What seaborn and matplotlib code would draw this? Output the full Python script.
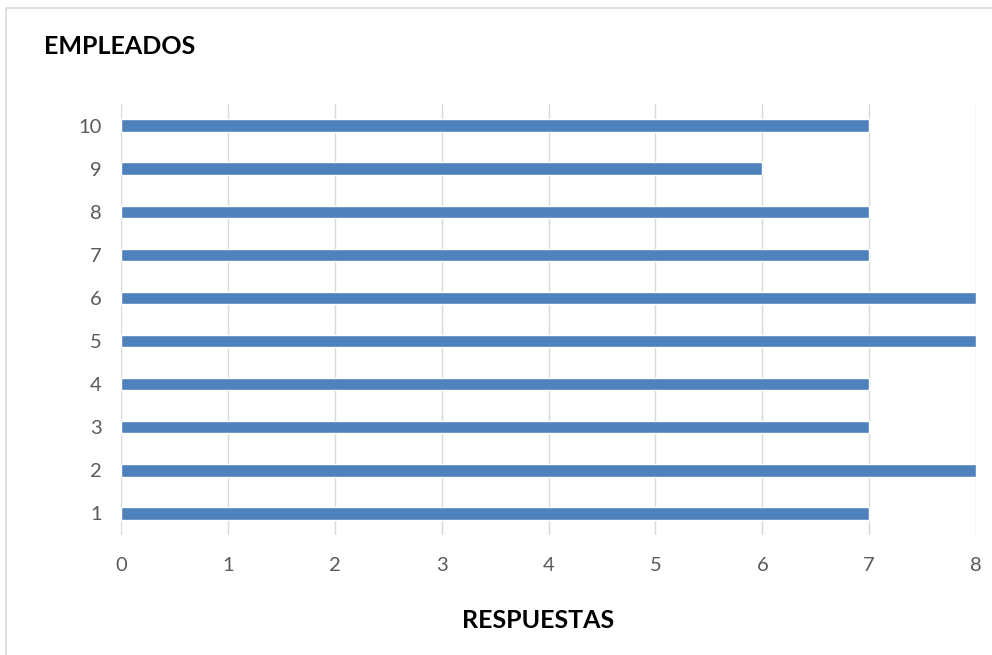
import matplotlib
matplotlib.use("Agg")
import matplotlib.pyplot as plt
import seaborn as sns
import pandas as pd
from matplotlib.patches import Rectangle

empleados = ["1", "2", "3", "4", "5", "6", "7", "8", "9", "10"]
respuestas = [7, 8, 7, 7, 8, 8, 7, 7, 6, 7]
x_ticks = [0, 1, 2, 3, 4, 5, 6, 7, 8]

df = pd.DataFrame({"empleado": empleados, "respuestas": respuestas})

sns.set_theme(style="white")
plt.rcParams["font.family"] = ["Lato", "DejaVu Sans"]

fig = plt.figure(figsize=(9.92, 6.55), dpi=100)
ax = fig.add_axes([121 / 992, 1 - 535 / 655, (976 - 121) / 992, (535 - 104) / 655])

sns.barplot(data=df, x="respuestas", y="empleado", order=empleados[::-1],
            orient="h", color="#4F81BD", saturation=1, width=0.29, ax=ax)

ax.set_xlim(0, 8)
ax.set_ylim(9.5, -0.5)
ax.set_xticks(x_ticks)
ax.xaxis.grid(True, color="#D9D9D9", linewidth=1)
ax.set_axisbelow(True)
for s in ax.spines.values():
    s.set_visible(False)
ax.tick_params(axis="both", length=0, labelsize=14.5, labelcolor="#595959")
ax.tick_params(axis="x", pad=16)
ax.tick_params(axis="y", pad=14)
ax.set_xlabel("")
ax.set_ylabel("")

fig.text(44 / 992, 1 - 47 / 655, "EMPLEADOS", fontsize=18, fontweight="bold",
         color="black", ha="left", va="center")
fig.text(538 / 992, 1 - 621 / 655, "RESPUESTAS", fontsize=18, fontweight="bold",
         color="black", ha="center", va="center")

fig.patches.append(Rectangle((6 / 992, -0.01), 1.0, 1 - 8 / 655 + 0.01,
                             transform=fig.transFigure, fill=False,
                             edgecolor="#D9D9D9", linewidth=1.2))

fig.savefig("out.png", dpi=100)
